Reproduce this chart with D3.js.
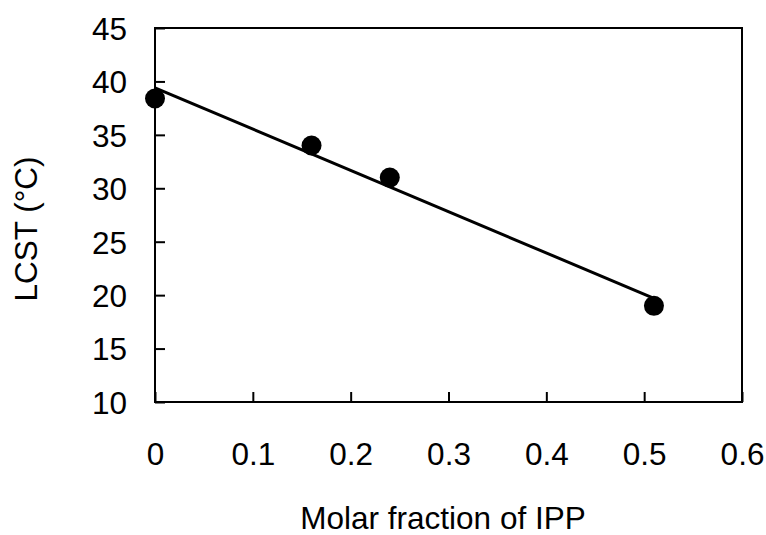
<!DOCTYPE html>
<html><head><meta charset="utf-8">
<script src="https://cdn.jsdelivr.net/npm/d3@7"></script>
<style>body{margin:0;background:#fff}svg{display:block}text{font-family:"Liberation Sans",Arial,Helvetica,sans-serif;fill:#000}</style>
</head><body>
<svg id="c" width="766" height="535"></svg>
<script>
const molarFraction = [0, 0.16, 0.24, 0.51];
const lcst = [38.4, 34.0, 31.0, 19.0];
const trendX = [0, 0.51];
const trendY = [39.4, 19.7];
const xTicks = [0, 0.1, 0.2, 0.3, 0.4, 0.5, 0.6];
const yTicks = [10, 15, 20, 25, 30, 35, 40, 45];

const svg = d3.select("#c");
const L = 155, R = 742, T = 28, B = 402;
const x = d3.scaleLinear().domain([0, 0.6]).range([L, R]);
const y = d3.scaleLinear().domain([10, 45]).range([B, T]);
const FS = 31.5;

// frame
svg.append("rect").attr("x", L).attr("y", T).attr("width", R - L).attr("height", B - T)
  .attr("fill", "none").attr("stroke", "#000").attr("stroke-width", 2);

// y axis
const ya = svg.append("g").attr("transform", `translate(${L},0)`)
  .call(d3.axisLeft(y).tickValues(yTicks).tickSizeInner(-10).tickSizeOuter(0).tickPadding(28).tickFormat(d3.format("d")));
ya.select(".domain").remove();
ya.selectAll("line").attr("stroke", "#000").attr("stroke-width", 2);
ya.selectAll("text").attr("font-size", FS).attr("dy", "0.36em");

// x axis
const xa = svg.append("g").attr("transform", `translate(0,${B})`)
  .call(d3.axisBottom(x).tickValues(xTicks).tickSizeInner(-10).tickSizeOuter(0).tickPadding(43)
    .tickFormat(d => d === 0 ? "0" : d3.format(".1f")(d)));
xa.select(".domain").remove();
xa.selectAll("line").attr("stroke", "#000").attr("stroke-width", 2);
xa.selectAll("text").attr("font-size", FS).attr("y", 63).attr("dy", 0);

// trend line
svg.append("path").datum(trendX.map((v, i) => [v, trendY[i]]))
  .attr("d", d3.line().x(d => x(d[0])).y(d => y(d[1])))
  .attr("fill", "none").attr("stroke", "#000").attr("stroke-width", 3);

// points
svg.selectAll("circle.pt").data(molarFraction.map((v, i) => [v, lcst[i]])).enter()
  .append("circle").attr("class", "pt")
  .attr("cx", d => x(d[0])).attr("cy", d => y(d[1])).attr("r", 10).attr("fill", "#000");

// titles
svg.append("text").attr("x", 443).attr("y", 529).attr("text-anchor", "middle")
  .attr("font-size", FS).text("Molar fraction of IPP");
svg.append("text").attr("transform", "translate(37,229) rotate(-90)").attr("text-anchor", "middle")
  .attr("font-size", FS).text("LCST (°C)");
</script>
</body></html>
